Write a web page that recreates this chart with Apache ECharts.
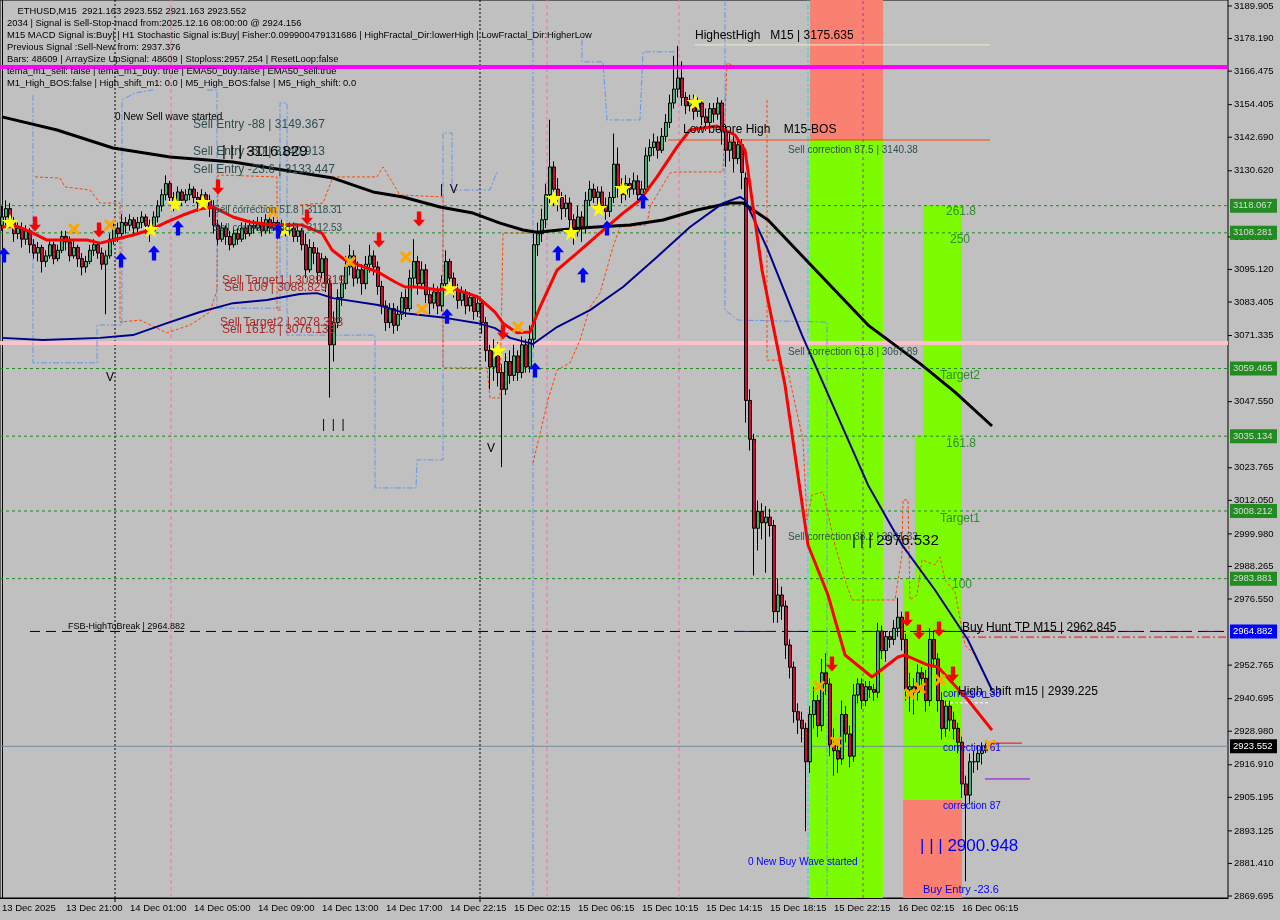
<!DOCTYPE html>
<html><head><meta charset="utf-8">
<script src="https://cdn.jsdelivr.net/npm/echarts@6/dist/echarts.min.js"></script>
<style>html,body{margin:0;padding:0;background:#c0c0c0;}#c{width:1280px;height:920px;}</style>
</head><body><div id="c"></div>
<script>
// ---------- DATA ----------
const timeLabels = ['13 Dec 2025','13 Dec 21:00','14 Dec 01:00','14 Dec 05:00','14 Dec 09:00','14 Dec 13:00','14 Dec 17:00','14 Dec 22:15','15 Dec 02:15','15 Dec 06:15','15 Dec 10:15','15 Dec 14:15','15 Dec 18:15','15 Dec 22:15','16 Dec 02:15','16 Dec 06:15'];
const timeLabelBars = [0,16,32,48,64,80,96,112,128,144,160,176,192,208,224,240];
const yTickLabels = ['3189.905','3178.190','3166.475','3154.405','3142.690','3130.620','3106.835','3095.120','3083.405','3071.335','3047.550','3023.765','3012.050','2999.980','2988.265','2976.550','2952.765','2940.695','2928.980','2916.910','2905.195','2893.125','2881.410','2869.695'];
// [open, close, low, high]
const ohlc = [
[3111,3114,3109,3118],[3114,3117,3111,3120],[3117,3112,3110,3119],[3112,3108,3105,3114],[3108,3110,3106,3112],
[3110,3106,3103,3112],[3106,3109,3104,3111],[3109,3104,3101,3110],[3104,3101,3099,3106],[3101,3103,3098,3105],
[3103,3098,3094,3104],[3098,3100,3096,3102],[3100,3104,3099,3106],[3104,3099,3097,3105],[3099,3102,3098,3104],
[3102,3107,3101,3109],[3107,3105,3102,3109],[3105,3100,3098,3107],[3100,3103,3099,3106],[3103,3099,3096,3104],
[3099,3096,3093,3101],[3096,3098,3094,3100],[3098,3102,3097,3104],[3102,3104,3100,3106],[3104,3101,3099,3105],
[3101,3097,3095,3103],[3097,3100,3079,3102],[3100,3106,3099,3108],[3106,3110,3104,3113],[3110,3108,3105,3112],
[3108,3112,3107,3115],[3112,3111,3108,3114],[3111,3113,3109,3115],[3113,3110,3107,3114],[3110,3112,3108,3114],
[3112,3114,3110,3116],[3114,3111,3108,3115],[3111,3109,3105,3113],[3109,3114,3108,3116],[3114,3118,3112,3120],
[3118,3122,3116,3124],[3122,3126,3120,3129],[3126,3121,3119,3127],[3121,3119,3116,3123],[3119,3123,3118,3125],
[3123,3120,3118,3124],[3120,3122,3119,3124],[3122,3124,3120,3126],[3124,3121,3119,3125],[3121,3119,3116,3123],
[3119,3122,3117,3124],[3122,3120,3117,3123],[3120,3117,3114,3122],[3117,3111,3108,3120],[3111,3106,3104,3113],
[3106,3110,3105,3112],[3110,3107,3104,3111],[3107,3104,3102,3109],[3104,3108,3103,3110],[3108,3106,3104,3110],
[3106,3110,3105,3112],[3110,3108,3106,3112],[3108,3111,3107,3113],
[3111,3110,3108,3113],[3110,3112,3109,3114],[3112,3109,3107,3114],[3109,3113,3108,3115],[3113,3110,3108,3115],
[3110,3112,3109,3114],[3112,3108,3106,3113],[3108,3111,3107,3113],[3111,3109,3107,3112],[3109,3110,3107,3112],
[3110,3107,3105,3112],[3107,3109,3105,3111],[3109,3104,3102,3110],[3104,3095,3092,3108],[3095,3103,3094,3106],
[3103,3101,3097,3105],[3101,3094,3090,3103],[3094,3099,3092,3101],[3099,3090,3087,3100],[3090,3068,3049,3092],
[3068,3076,3062,3080],[3076,3085,3074,3088],[3085,3090,3082,3093],[3090,3096,3088,3100],[3096,3100,3093,3104],
[3100,3092,3089,3102],[3092,3095,3090,3098],[3095,3090,3086,3097],[3090,3097,3088,3100],[3097,3100,3094,3104],
[3100,3096,3093,3102],[3096,3089,3086,3098],[3089,3082,3079,3091],[3082,3076,3073,3084],[3076,3081,3074,3083],
[3081,3075,3072,3083],[3075,3079,3073,3082],[3079,3085,3077,3087],[3085,3081,3078,3088],[3081,3092,3080,3095],
[3092,3098,3089,3106],[3098,3090,3086,3100],[3090,3095,3088,3098],[3095,3086,3083,3097],[3086,3083,3079,3088],
[3083,3087,3081,3090],[3087,3082,3079,3089],[3082,3090,3080,3093],[3090,3098,3088,3102],[3098,3092,3089,3099],
[3092,3088,3085,3094],[3088,3084,3081,3090],[3084,3087,3082,3089],[3087,3082,3079,3088],[3082,3085,3080,3087],
[3085,3080,3077,3086],[3080,3083,3078,3085],[3083,3076,3072,3084],[3076,3066,3062,3078],[3066,3060,3052,3068],
[3060,3066,3055,3070],
[3066,3058,3053,3069],[3058,3052,3024,3061],[3052,3062,3050,3065],[3062,3057,3054,3066],[3057,3064,3055,3068],
[3064,3058,3055,3066],[3058,3068,3056,3071],[3068,3060,3058,3070],[3060,3070,3058,3075],[3070,3104,3067,3108],
[3104,3108,3100,3112],[3108,3113,3105,3117],[3113,3122,3110,3126],[3122,3132,3119,3149],[3132,3124,3118,3134],
[3124,3121,3116,3128],[3121,3117,3113,3123],[3117,3119,3114,3122],[3119,3113,3110,3121],[3113,3109,3104,3115],
[3109,3114,3107,3118],[3114,3110,3105,3116],[3110,3120,3108,3123],[3120,3124,3118,3127],[3124,3121,3119,3126],
[3121,3123,3118,3125],[3123,3118,3116,3125],[3118,3116,3113,3121],[3116,3121,3114,3123],[3121,3133,3119,3144],
[3133,3125,3121,3139],[3125,3122,3119,3128],[3122,3126,3120,3129],[3126,3124,3121,3128],[3124,3127,3122,3130],
[3127,3122,3120,3129],[3122,3124,3119,3127],[3124,3136,3123,3139],[3136,3139,3134,3142],[3139,3141,3136,3144],
[3141,3138,3135,3143],[3138,3143,3137,3146],[3143,3148,3141,3151],[3148,3155,3146,3158],[3155,3160,3153,3172],
[3160,3164,3157,3175.6],[3164,3157,3154,3170],[3157,3154,3151,3159],[3154,3156,3152,3158],[3156,3152,3149,3158],
[3152,3155,3150,3157],[3155,3150,3147,3156],[3150,3148,3145,3153],[3148,3153,3147,3155],[3153,3151,3148,3155],
[3151,3155,3149,3157],[3155,3145,3140,3156],[3145,3138,3132,3147],[3138,3141,3134,3144],[3141,3135,3130,3143],
[3135,3140,3133,3142],[3140,3130,3124,3142],
[3128,3048,3040,3130],[3048,3034,3030,3052],[3034,3002,2985,3036],[3002,3008,2994,3012],[3008,3004,2998,3011],
[3004,3006,2986,3010],[3006,3003,2999,3009],[3003,2972,2968,3005],[2972,2978,2968,2984],[2978,2974,2969,2981],
[2974,2960,2955,2976],[2960,2952,2948,2962],[2952,2936,2932,2954],[2936,2933,2928,2939],[2933,2930,2925,2936],
[2930,2918,2893,2932],[2918,2935,2914,2938],[2935,2940,2930,2945],[2940,2931,2927,2942],[2931,2950,2929,2955],
[2950,2946,2942,2957],[2946,2924,2920,2948],[2924,2922,2913,2930],[2922,2919,2914,2926],[2919,2935,2917,2940],
[2935,2928,2925,2938],[2928,2920,2916,2931],[2920,2942,2918,2946],[2942,2946,2939,2948],[2946,2940,2937,2948],
[2940,2945,2938,2947],[2945,2944,2941,2947],[2944,2943,2940,2946],[2943,2965,2941,2968],[2965,2958,2955,2967],
[2958,2963,2954,2965],[2963,2962,2959,2965],[2962,2966,2960,2969],[2966,2970,2963,2977],[2970,2962,2958,2972],
[2962,2944,2940,2964],[2944,2945,2936,2950],[2945,2943,2935,2948],[2943,2950,2940,2953],[2950,2948,2944,2952],
[2948,2940,2936,2951],[2940,2962,2938,2966],[2962,2955,2952,2965],[2955,2940,2936,2957],[2940,2930,2926,2943],
[2930,2938,2927,2940],[2938,2933,2929,2940],[2933,2930,2926,2936],[2930,2925,2921,2932],[2925,2910,2905,2927],
[2910,2906,2875,2913],[2906,2918,2903,2921],[2918,2918,2914,2922],[2918,2921,2915,2924],[2921,2922,2917,2925],
[2922,2923.552,2921.163,2924.5]
];
// moving averages: [bar, price]
const maBlack = [[0,3150.0],[13.75,3145.3],[27.75,3138.8],[42,3135.6],[57.75,3133.8],[70.25,3130.9],[82.75,3128.0],[92.75,3123.0],[100.25,3121.2],[109.5,3117.6],[117.75,3115.4],[124.5,3111.8],[130.25,3109.3],[133.75,3108.5],[144.5,3110.0],[157,3111.1],[165.25,3112.9],[173.75,3116.5],[182,3119.0],[185.25,3119.0],[191.5,3112.9],[201.5,3097.8],[216.5,3075.1],[230,3060.7],[238.25,3051.0],[247.5,3038.8]];
const maNavy = [[0,3070.5],[10.25,3069.7],[24.5,3070.5],[32.75,3071.5],[41.25,3075.8],[49.5,3079.8],[57.75,3083.0],[66.25,3084.1],[74.5,3086.3],[78.75,3086.6],[82.75,3084.8],[94,3082.3],[100.75,3079.4],[110.75,3077.7],[119,3075.8],[123.25,3074.0],[127,3070.5],[132.75,3068.3],[138.75,3074.4],[147,3080.5],[155.25,3088.8],[163.75,3099.6],[172,3110.4],[180.25,3119.0],[184.5,3121.2],[185.75,3120.1],[191.5,3102.1],[200,3071.5],[208.25,3044.5],[216.5,3017.6],[225,2996.0],[233.25,2979.8],[241.5,2961.8],[247.5,2943.8]];
const maRed = [[0,3110.4],[3.75,3110.7],[7.75,3108.2],[11.25,3105.7],[21.25,3105.7],[24.5,3104.6],[27.75,3105.7],[32.75,3107.5],[37,3109.3],[41.25,3112.2],[45.25,3114.7],[49.5,3116.9],[52.75,3117.6],[57.75,3114.0],[62,3112.2],[67.5,3111.1],[75,3111.1],[80,3108.2],[82.5,3102.1],[85.75,3098.5],[94,3094.2],[98.25,3090.6],[100.75,3088.8],[104,3088.8],[109,3087.7],[112.5,3088.4],[119,3085.2],[123.25,3079.8],[125.25,3075.8],[128.75,3072.3],[132,3072.6],[134.5,3081.6],[138.75,3094.9],[143.75,3101.0],[151.25,3110.4],[155.25,3115.4],[159.5,3120.1],[163.75,3128.4],[168.75,3139.2],[172,3145.3],[178.75,3146.7],[183.25,3143.5],[185.75,3138.1],[190,3094.9],[195.75,3053.5],[201.5,2996.0],[206.5,2978.0],[210.75,2956.4],[217.5,2948.5],[224,2955.7],[225.75,2956.4],[231.5,2952.8],[234,2952.1],[241.5,2940.2],[247.5,2929.4]];
// stepped channel lines
const blueStep1 = [[7.75,3157.9],[7.75,3061.5],[23.75,3061.5],[23.75,3075.1],[30,3075.1],[30,3156.1],[33.25,3158.6],[37.75,3159.7]];
const blueStep2 = [[51.25,3159.7],[53.75,3159.7],[53.75,3081.2],[69.5,3081.2],[69.5,3155.0],[71.25,3155.0],[71.25,3071.5],[93.25,3071.5],[93.25,3016.5],[103.5,3016.5],[103.75,3026.6],[110.25,3026.6],[110.25,3144.2],[112.5,3144.2],[112.5,3123.7],[122,3123.7],[123.75,3130.2]];
const blueStep3 = [[145,3177.7],[145,3169.8],[150.25,3169.8],[151.25,3148.9],[159.5,3148.9],[160.25,3173.4],[168.25,3173.4]];
const blueStep4 = [[180.75,3192],[180.75,3080.5],[184,3076.9],[206.25,3076.2],[206.25,2869]];
const orangeStep1 = [[8.25,3128.4],[14.5,3128.0],[15.75,3124.8],[22,3123.7],[24.5,3119.0],[29.5,3119.0],[29.5,3076.2],[34.5,3076.9],[41.25,3072.3],[47,3075.1],[52,3079.8],[53.75,3087.7],[54,3129.1],[68.75,3128.4],[68.75,3080.5],[70.25,3080.5]];
const orangeStep2 = [[132.75,3025.5],[136.5,3048.1],[138.75,3058.9],[142,3061.5],[144.5,3069.7],[147,3081.6],[149.5,3086.6],[152.75,3103.2],[154.5,3110.4],[161.25,3111.1],[162,3117.6],[167,3129.8],[168.75,3130.2],[180.25,3130.2],[181.25,3169.4],[183.75,3168.0]];
const orangeStep3 = [[191.25,3156.1],[191.25,3062.5],[194,3062.5],[196.5,3058.2],[200.25,3033.8],[201.25,3005.0],[202.5,3014.0],[205.25,3015.1],[208.25,2996.0],[210.75,2983.4],[212.5,2976.2],[223.25,2976.2],[225,2992.4],[225.25,3012.2],[226.5,3012.2],[227,2976.2],[228.75,2978.0],[230,2990.6],[233.25,2988.8],[234.5,2991.7],[235.75,2983.4],[238.25,2979.1],[240.75,2960.0],[243.25,2956.4]];
const orangeStep4 = [[74.5,3118.3],[80.25,3119.0],[82.75,3128.4],[93.75,3128.4],[95.25,3132.0],[99.5,3121.9],[110.25,3121.2],[110.25,3059.7],[121.25,3059.7],[122,3048.9],[124.5,3048.9],[125.25,3108.2],[132.75,3108.2]];
// signal markers [bar, price]
const stars = [[2,3112.2],[37.25,3109.7],[43.25,3119.0],[50.25,3119.4],[70.75,3109.7],[112,3088.4],[124,3066.1],[138,3120.8],[142.25,3108.6],[149.25,3117.2],[155.25,3124.4],[173.25,3155.4]];
const upArrows = [[0.5,3103.2],[29.75,3101.4],[38,3103.9],[44,3112.9],[69,3111.8],[111.25,3081.2],[133.25,3061.8],[139,3103.9],[145.25,3096.0],[151.25,3112.9],[160.25,3122.6]];
const downArrows = [[8.25,3108.6],[24.25,3106.4],[54,3121.9],[76.25,3111.1],[94.25,3102.8],[104.25,3110.4],[125.25,3069.7],[207.5,2950.3],[226.25,2966.5],[229.25,2961.8],[234.25,2962.9],[237.75,2946.7]];
const crosses = [[18,3109.7],[27,3111.1],[67.75,3115.8],[87,3097.8],[101,3099.6],[105,3080.9],[129,3074.4],[204.25,2945.2],[208.5,2925.1],[227,2942.4],[229.5,2944.5],[234.5,2947.4],[247,2924.0]];
// levels
const magentaLevel = 3167.95;
const pinkLevel = 3068.65;
const greenLevels = [3118.067,3108.281,3059.465,3035.134,3008.212,2983.881];
const fsbLevel = 2964.882;
const buyHuntLevel = 2962.845;
const lastPrice = 2923.552;
const highestHigh = 3175.9;
const lowBeforeHigh = 3141.7;
// zones [barFrom, barTo, priceTop, priceBottom]
const greenZones = [[202,220.25,3141.7,2868.98],[230.25,240,3118.3,3035.6],[228.25,240,3035.6,2983.4],[225.25,240,2983.4,2904.2]];
const salmonZones = [[202,220.25,3192.06,3141.7],[225.25,240,2904.2,2868.98]];
// vertical lines (bar)
const dayLines = [28.25,119.5];
const pinkVLines = [42.25,136.25,169.25];
const blueVLine = 132.75, cyanVLine = 201.5, purpleVLine = 215.25;
// annotations [text, bar, price, kind]
const notes = [
 ['0 New Sell wave started',28.25,3150.0,'k10'],
 ['Sell Entry -88 | 3149.367',47.75,3147.1,'s12'],
 ['Sell Entry -50 | 3140.913',47.75,3137.4,'s12'],
 ['| | | 3116.829',55,3137.4,'k15'],
 ['Sell Entry -23.6 | 3133.447',47.75,3130.9,'s12'],
 ['Sell correction 51.8 | 3118.31',52.75,3116.5,'s10'],
 ['Sell correction 38.2 | 3112.53',52.75,3110.0,'s10'],
 ['Sell Target1 | 3089.819',55,3091.0,'b12'],
 ['Sell 100 | 3088.829',55.5,3088.6,'b12'],
 ['Sell Target2 | 3078.383',54.5,3075.8,'b12'],
 ['Sell 161.8 | 3076.133',55,3073.3,'b12'],
 ['HighestHigh   M15 | 3175.635',173.25,3179.1,'k12'],
 ['Low before High    M15-BOS',170.25,3145.3,'k12'],
 ['Sell correction 87.5 | 3140.38',196.5,3138.1,'s10'],
 ['261.8',236,3115.8,'g12'],
 ['250',237,3105.7,'g12'],
 ['Sell correction 61.8 | 3067.89',196.5,3065.4,'s10'],
 ['Target2',234.5,3056.8,'g12'],
 ['161.8',236,3032.3,'g12'],
 ['Target1',234.5,3005.3,'g12'],
 ['Sell correction 38.2 | 3001.33',196.5,2998.9,'s10'],
 ['| | | 2976.532',212.5,2997.4,'k15'],
 ['100',237.5,2981.6,'g12'],
 ['FSB-HighToBreak | 2964.882',16.5,2966.8,'k9'],
 ['Buy Hunt TP M15 | 2962.845',240,2966.1,'k12'],
 ['High_shift m15 | 2939.225',239,2943.1,'k12'],
 ['correction 38',235.25,2942.4,'u10'],
 ['correction 61',235.25,2922.9,'u10'],
 ['correction 87',235.25,2902.1,'u10'],
 ['| | | 2900.948',229.5,2887.7,'u16'],
 ['Buy Entry -23.6',230.25,2871.8,'u11'],
 ['0 New Buy Wave started',186.5,2881.9,'u10'],
 ['V',26,3056.1,'k12'],
 ['|  V',109.5,3123.7,'k12'],
 ['V',121.25,3030.5,'k12'],
 ['|  |  |',80,3039.2,'k12']
];
const infoLines = [
 '    ETHUSD,M15  2921.163 2923.552 2921.163 2923.552',
 '2034 | Signal is Sell-Stop-macd from:2025.12.16 08:00:00 @ 2924.156',
 'M15 MACD Signal is:Buy| | H1 Stochastic Signal is:Buy| Fisher:0.099900479131686 | HighFractal_Dir:lowerHigh | LowFractal_Dir:HigherLow',
 'Previous Signal :Sell-New from: 2937.376',
 'Bars: 48609 | ArraySize UpSignal: 48609 | Stoploss:2957.254 | ResetLoop:false',
 'tema_m1_sell: false | tema_m1_buy: true | EMA50_buy:false | EMA50_sell:true',
 'M1_High_BOS:false | High_shift_m1: 0.0 | M5_High_BOS:false | M5_High_shift: 0.0'
];
const priceTags = [[3118.067,'g'],[3108.281,'g'],[3059.465,'g'],[3035.134,'g'],[3008.212,'g'],[2983.881,'g'],[2964.882,'b'],[2923.552,'k']];

// ---------- CHART ----------
const Y_MIN = 2868.98, Y_MAX = 3192.06, X_MIN = -0.5, X_MAX = 306.5;
const FONT = '"Liberation Sans", Arial, sans-serif';
const chart = echarts.init(document.getElementById('c'), null, {renderer:'canvas'});

function hline(p, x0, x1, style, z) {
  return {type:'line', data:[[x0,p],[x1,p]], showSymbol:false, silent:true, z:z||2, lineStyle:style, animation:false};
}
function vline(b, style, z) {
  return {type:'line', data:[[b,Y_MIN],[b,Y_MAX]], showSymbol:false, silent:true, z:z||2, lineStyle:style, animation:false};
}
function poly(pts, style, z) {
  return {type:'line', data:pts, showSymbol:false, silent:true, z:z||2, lineStyle:style, animation:false};
}
const STAR = 'path://M50,0 L61,35 L98,35 L68,57 L79,91 L50,70 L21,91 L32,57 L2,35 L39,35 Z';
const UP = 'path://M50,0 L100,45 L68,45 L68,100 L32,100 L32,45 L0,45 Z';
const DOWN = 'path://M50,100 L100,55 L68,55 L68,0 L32,0 L32,55 L0,55 Z';
const CROSS = 'path://M0,18 L18,0 L50,32 L82,0 L100,18 L68,50 L100,82 L82,100 L50,68 L18,100 L0,82 L32,50 Z';

const series = [];
const areaData = [];
greenZones.forEach(z => areaData.push([{coord:[z[0],z[2]], itemStyle:{color:'#7cfc00'}},{coord:[z[1],z[3]]}]));
salmonZones.forEach(z => areaData.push([{coord:[z[0],z[2]], itemStyle:{color:'#fa8072'}},{coord:[z[1],z[3]]}]));
series.push({type:'line', data:[[X_MIN,Y_MIN]], showSymbol:false, lineStyle:{opacity:0}, z:1, silent:true,
  markArea:{silent:true, itemStyle:{opacity:1}, data:areaData}});
dayLines.forEach(b => series.push(vline(b,{color:'#000',width:1,type:[2,2]})));
pinkVLines.forEach(b => series.push(vline(b,{color:'#ff69b4',width:1,type:[4,3]})));
series.push(vline(blueVLine,{color:'#6495ed',width:1,type:[6,2,2,2]}));
series.push(vline(cyanVLine,{color:'#00e5ee',width:1,type:[6,2,2,2]}));
series.push(vline(purpleVLine,{color:'#9932cc',width:1,type:[3,3]}));
greenLevels.forEach(p => series.push(hline(p,X_MIN,X_MAX,{color:'#1f8a1f',width:1,type:[3,3]})));
series.push(hline(pinkLevel,X_MIN,X_MAX,{color:'#ffc0cb',width:4}));
series.push(hline(fsbLevel,7,X_MAX,{color:'#000',width:1,type:[10,6]}));
series.push(hline(fsbLevel,183,X_MAX,{color:'#0000ff',width:1,type:[16,10]}));
series.push(hline(buyHuntLevel,240,X_MAX,{color:'#ff0000',width:1,type:[8,3,2,3]}));
series.push(hline(lastPrice,X_MIN,X_MAX,{color:'#778899',width:1}));
series.push(hline(highestHigh,173.25,247,{color:'#eeeed2',width:1}));
series.push(hline(lowBeforeHigh,166.5,247,{color:'#ff4500',width:1}));
series.push(hline(2924.7,245.75,255,{color:'#ff0000',width:1}));
series.push(hline(2911.8,245.75,257,{color:'#9400d3',width:1}));
series.push(hline(2939.2,235.75,247,{color:'#ffffff',width:1,type:[3,2]}));
[blueStep1,blueStep2,blueStep3,blueStep4].forEach(s => series.push(poly(s,{color:'#6495ed',width:1,type:[6,2,2,2]})));
[orangeStep1,orangeStep2,orangeStep3,orangeStep4].forEach(s => series.push(poly(s,{color:'#ff4500',width:1,type:[3,2]})));
series.push({type:'candlestick', z:3, silent:true, barWidth:3, animation:false,
  data: ohlc.map((d,i) => [i,d[0],d[1],d[2],d[3]]), encode:{x:0, y:[1,2,3,4]},
  itemStyle:{color:'#3cb371', color0:'#c8102e', borderColor:'#000', borderColor0:'#000', borderWidth:1}});
series.push(hline(magentaLevel,X_MIN,X_MAX,{color:'#ff00ff',width:4},3));
series.push(poly(maBlack,{color:'#000',width:3},4));
series.push(poly(maNavy,{color:'#00008b',width:2},4));
series.push(poly(maRed,{color:'#ff0000',width:3},4));
function scatter(pts, symbol, size, color, offset) {
  return {type:'scatter', data:pts, symbol:symbol, symbolSize:size, symbolOffset:offset, z:5, silent:true, animation:false,
    itemStyle:{color:color, opacity:1}};
}
series.push(scatter(stars,STAR,17,'#ffff00',[0,0]));
series.push(scatter(upArrows,UP,[12,15],'#0000ff',[0,8]));
series.push(scatter(downArrows,DOWN,[12,15],'#ff0000',[0,-8]));
series.push(scatter(crosses,CROSS,12,'#ffa500',[0,0]));

chart.setOption({
  backgroundColor:'#c0c0c0',
  animation:false,
  grid:{left:0, right:52, top:0, bottom:22, show:true, borderColor:'#000', borderWidth:1, backgroundColor:'transparent'},
  xAxis:{type:'value', min:X_MIN, max:X_MAX, axisLine:{show:true, lineStyle:{color:'#000'}}, axisTick:{show:false}, axisLabel:{show:false}, splitLine:{show:false}},
  yAxis:{type:'value', position:'right', min:Y_MIN, max:Y_MAX, axisLine:{show:true, lineStyle:{color:'#000'}}, axisTick:{show:false}, axisLabel:{show:false}, splitLine:{show:false}},
  series:series
});

// ---------- TEXT / AXIS LABELS (positioned through the chart's scales) ----------
const px = (b,p) => chart.convertToPixel({gridIndex:0},[b,p]);
const styles = {
  k9:['#000','9px'], k10:['#000','10px'], k12:['#000','12px'], k15:['#000','15px'],
  s10:['#2f4f4f','10px'], s12:['#2f4f4f','12px'], b12:['#a52a2a','12px'], g12:['#2e8b2e','12px'],
  u10:['#0000ff','10px'], u11:['#0000ff','11px'], u16:['#0000ff','17px']
};
const g = [];
notes.forEach(n => {
  const [x,y] = px(n[1],n[2]);
  const st = styles[n[3]];
  g.push({type:'text', z:100, x:x, y:y, style:{text:n[0], fill:st[0], font:st[1]+' '+FONT, textAlign:'left', textVerticalAlign:'middle'}});
});
infoLines.forEach((t,i) => {
  g.push({type:'text', z:100, x:7, y:11+i*12, style:{text:t, fill:'#000', font:'9.4px '+FONT, textAlign:'left', textVerticalAlign:'middle'}});
});
const axisX = px(X_MAX, Y_MIN)[0];
yTickLabels.forEach(t => {
  const y = px(0, parseFloat(t))[1];
  g.push({type:'line', z:100, shape:{x1:axisX, y1:y, x2:axisX+4, y2:y}, style:{stroke:'#000', lineWidth:1}});
  g.push({type:'text', z:100, x:axisX+6, y:y, style:{text:t, fill:'#000', font:'9.5px '+FONT, textAlign:'left', textVerticalAlign:'middle'}});
});
const tagColors = {g:['#228b22','#dcdcdc'], b:['#0000ff','#ffffff'], k:['#000000','#ffffff']};
priceTags.forEach(t => {
  const y = px(0, t[0])[1];
  const c = tagColors[t[1]];
  g.push({type:'rect', z:101, shape:{x:axisX+2, y:y-7, width:47, height:14}, style:{fill:c[0]}});
  g.push({type:'text', z:102, x:axisX+5, y:y, style:{text:t[0].toFixed(3), fill:c[1], font:'9.5px '+FONT, textAlign:'left', textVerticalAlign:'middle'}});
});
const axisY = px(0, Y_MIN)[1];
timeLabels.forEach((t,i) => {
  const x = px(timeLabelBars[i], Y_MIN)[0];
  g.push({type:'text', z:100, x:x, y:axisY+10, style:{text:t, fill:'#000', font:'9.5px '+FONT, textAlign:'left', textVerticalAlign:'middle'}});
});
dayLines.forEach(b => {
  const x = px(b, Y_MIN)[0];
  g.push({type:'line', z:100, shape:{x1:x, y1:axisY, x2:x, y2:axisY+4}, style:{stroke:'#000', lineWidth:1}});
});
chart.setOption({graphic:g});
</script></body></html>
